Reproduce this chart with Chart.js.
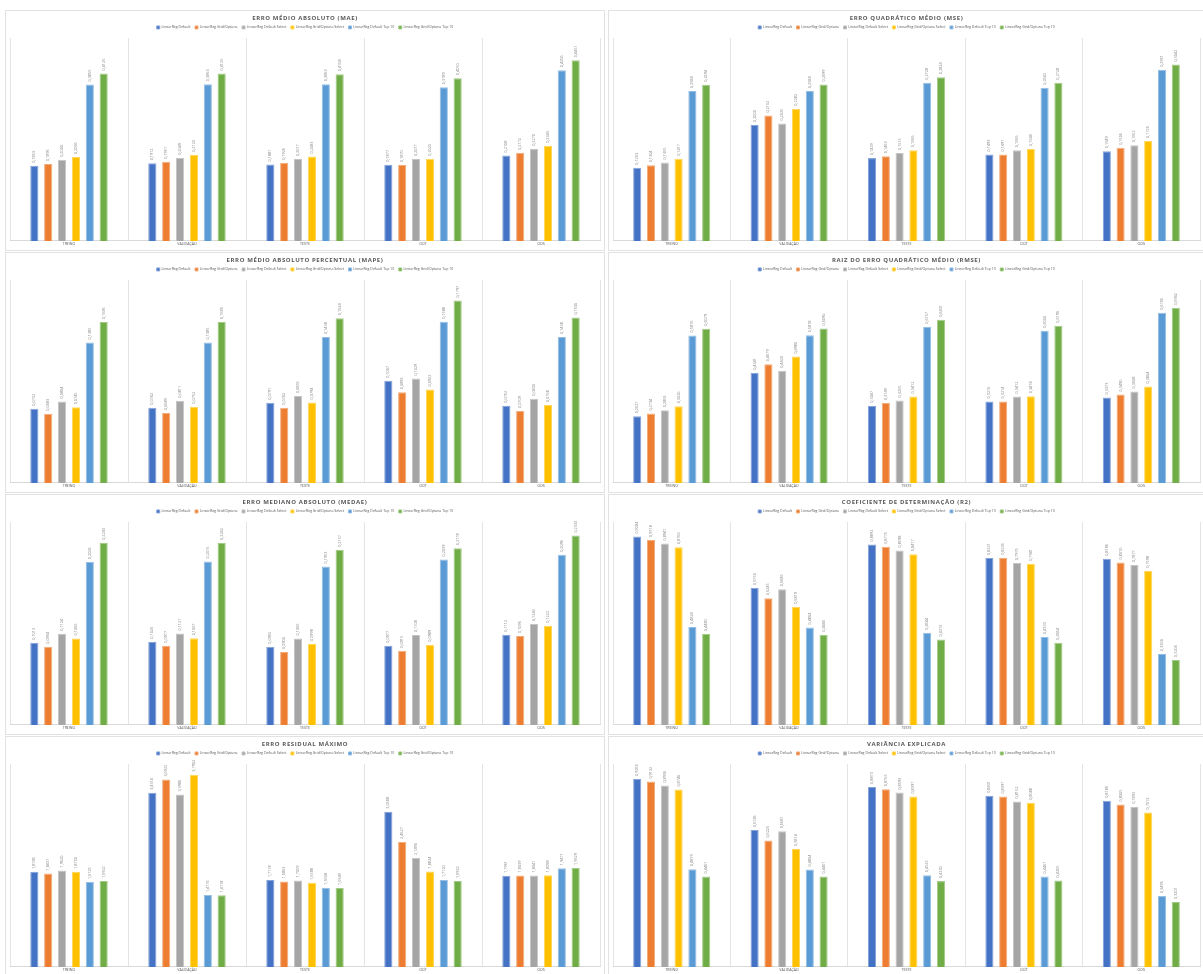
<!DOCTYPE html>
<html>
<head>
<meta charset="utf-8">
<script src="https://cdn.jsdelivr.net/npm/chart.js@4.4.1/dist/chart.umd.min.js"></script>
<style>
  html, body { margin: 0; background: #fff; }
  body { width: 1203px; height: 974px; position: relative; overflow: hidden; font-family: 'Open Sans', sans-serif; }
  .panel { position: absolute; border: 1px solid #e2e2e2; box-sizing: border-box; background: #fff; }
  .panel canvas { display: block; }
  .panel .title {
    position: absolute; left: 0; right: 0; top: 3px; line-height: 9px;
    text-align: center; font-weight: bold; font-size: 6px; letter-spacing: 0.6px; color: #595959;
  }
</style>
</head>
<body>
<script>
const categories = ['TREINO', 'VALIDAÇÃO', 'TESTE', 'OOT', 'OOS'];
const seriesNames = [
  'LinearReg Default', 'LinearReg Grid/Optuna', 'LinearReg Default Select',
  'LinearReg Grid/Optuna Select', 'LinearReg Default Top 10', 'LinearReg Grid/Optuna Top 10'
];
const seriesColors = ['#4472C4', '#ED7D31', '#A5A5A5', '#FFC000', '#5B9BD5', '#70AD47'];

// one row per series, values in category order
const maeValues = [
  [0.1853, 0.1912, 0.1887, 0.1877, 0.2108],
  [0.1895, 0.1951, 0.1926, 0.1870, 0.2172],
  [0.2000, 0.2049, 0.2017, 0.2017, 0.2270],
  [0.2066, 0.2123, 0.2083, 0.2025, 0.2343],
  [0.3855, 0.3863, 0.3863, 0.3789, 0.4206],
  [0.4125, 0.4125, 0.4108, 0.4010, 0.4451]
];
const mseValues = [
  [0.1263, 0.2000, 0.1429, 0.1493, 0.1549],
  [0.1304, 0.2162, 0.1463, 0.1491, 0.1606],
  [0.1355, 0.2025, 0.1515, 0.1566, 0.1652],
  [0.1417, 0.2282, 0.1566, 0.1584, 0.1726],
  [0.2584, 0.2584, 0.2728, 0.2642, 0.2951],
  [0.2694, 0.2699, 0.2824, 0.2728, 0.3042]
];
const mapeValues = [
  [0.0732, 0.0742, 0.0791, 0.1007, 0.0762],
  [0.0683, 0.0689, 0.0742, 0.0895, 0.0709],
  [0.0804, 0.0811, 0.0856, 0.1029, 0.0830],
  [0.0745, 0.0752, 0.0794, 0.0922, 0.0768],
  [0.1385, 0.1385, 0.1438, 0.1588, 0.1438],
  [0.1585, 0.1586, 0.1624, 0.1797, 0.1630]
];
const rmseValues = [
  [0.2627, 0.4341, 0.3047, 0.3216, 0.3373],
  [0.2734, 0.4679, 0.3149, 0.3214, 0.3490],
  [0.2863, 0.4420, 0.3255, 0.3412, 0.3608],
  [0.3020, 0.4980, 0.3412, 0.3418, 0.3804],
  [0.5816, 0.5818, 0.6157, 0.6000, 0.6706],
  [0.6079, 0.6090, 0.6431, 0.6196, 0.6902]
];
const medaeValues = [
  [0.1013, 0.1026, 0.0965, 0.0977, 0.1112],
  [0.0964, 0.0977, 0.0900, 0.0915, 0.1096],
  [0.1124, 0.1127, 0.1066, 0.1108, 0.1243],
  [0.1066, 0.1067, 0.0998, 0.0989, 0.1222],
  [0.2006, 0.2015, 0.1953, 0.2039, 0.2096],
  [0.2243, 0.2242, 0.2157, 0.2178, 0.2333]
];
const r2Values = [
  [0.9284, 0.6750, 0.8892, 0.8221, 0.8186],
  [0.9118, 0.6245, 0.8775, 0.8235, 0.8010],
  [0.8941, 0.6686, 0.8598, 0.7975, 0.7877],
  [0.8760, 0.5819, 0.8417, 0.7941, 0.7598],
  [0.4824, 0.4804, 0.4544, 0.4333, 0.3500],
  [0.4480, 0.4446, 0.4216, 0.4054, 0.3206]
];
const maxErrorValues = [
  [1.8745, 3.4314, 1.7118, 3.0588, 1.7961],
  [1.8431, 3.6922, 1.6863, 2.4627, 1.8039],
  [1.9020, 3.3980, 1.7059, 2.1490, 1.8041],
  [1.8750, 3.7902, 1.6588, 1.8824, 1.8098],
  [1.6725, 1.4176, 1.5608, 1.7120, 1.9471],
  [1.6922, 1.4118, 1.5549, 1.6922, 1.9529]
];
const varianceValues = [
  [0.9265, 0.6745, 0.8873, 0.8431, 0.8186],
  [0.9132, 0.6225, 0.8755, 0.8397, 0.8005],
  [0.8936, 0.6681, 0.8593, 0.8152, 0.7892],
  [0.8740, 0.5814, 0.8397, 0.8088, 0.7613],
  [0.4819, 0.4804, 0.4525, 0.4461, 0.3495],
  [0.4461, 0.4461, 0.4230, 0.4265, 0.3201]
];

const panels = [
  { title: 'ERRO MÉDIO ABSOLUTO (MAE)', values: maeValues, yMax: 0.5 },
  { title: 'ERRO QUADRÁTICO MÉDIO (MSE)', values: mseValues, yMax: 0.35 },
  { title: 'ERRO MÉDIO ABSOLUTO PERCENTUAL (MAPE)', values: mapeValues, yMax: 0.2 },
  { title: 'RAIZ DO ERRO QUADRÁTICO MÉDIO (RMSE)', values: rmseValues, yMax: 0.8 },
  { title: 'ERRO MEDIANO ABSOLUTO (MEDAE)', values: medaeValues, yMax: 0.25 },
  { title: 'COEFICIENTE DE DETERMINAÇÃO (R2)', values: r2Values, yMax: 1.0 },
  { title: 'ERRO RESIDUAL MÁXIMO', values: maxErrorValues, yMax: 4.0 },
  { title: 'VARIÂNCIA EXPLICADA', values: varianceValues, yMax: 1.0 }
];

const colLeft = [5, 608];
const colWidth = [600, 597];
const rowTop = [10, 252, 494, 736];
const panelHeight = 241;

function lighten(hex, amt) {
  const n = parseInt(hex.slice(1), 16);
  const r = (n >> 16) & 255, g = (n >> 8) & 255, b = n & 255;
  const f = c => Math.round(c + (255 - c) * amt);
  return `rgb(${f(r)}, ${f(g)}, ${f(b)})`;
}

// vertical value labels above each bar
const barLabels = {
  id: 'barLabels',
  afterDatasetsDraw(chart) {
    const ctx = chart.ctx;
    ctx.save();
    ctx.font = '3.8px "Open Sans"';
    ctx.fillStyle = '#7f7f7f';
    ctx.textAlign = 'left';
    ctx.textBaseline = 'middle';
    chart.data.datasets.forEach((ds, i) => {
      chart.getDatasetMeta(i).data.forEach((bar, j) => {
        ctx.save();
        ctx.translate(bar.x, bar.y - 3);
        ctx.rotate(-Math.PI / 2);
        ctx.fillText(ds.data[j].toFixed(4).replace('.', ','), 0, 0);
        ctx.restore();
      });
    });
    ctx.restore();
  }
};

panels.forEach((p, k) => {
  const col = k % 2, row = Math.floor(k / 2);
  const div = document.createElement('div');
  div.className = 'panel';
  div.style.left = colLeft[col] + 'px';
  div.style.top = rowTop[row] + 'px';
  div.style.width = colWidth[col] + 'px';
  div.style.height = panelHeight + 'px';

  const canvas = document.createElement('canvas');
  canvas.width = colWidth[col] - 2;
  canvas.height = panelHeight - 2;
  div.appendChild(canvas);

  const title = document.createElement('div');
  title.className = 'title';
  title.textContent = p.title;
  div.appendChild(title);
  document.body.appendChild(div);

  new Chart(canvas, {
    type: 'bar',
    data: {
      labels: categories,
      datasets: seriesNames.map((name, i) => ({
        label: name,
        data: p.values[i],
        backgroundColor: seriesColors[i],
        borderColor: lighten(seriesColors[i], 0.35),
        borderWidth: 1,
        categoryPercentage: 0.705,
        barPercentage: 0.59
      }))
    },
    options: {
      responsive: false,
      animation: false,
      layout: { padding: { top: 10.2, left: 4, right: 4, bottom: 2.7 } },
      plugins: {
        legend: {
          position: 'top',
          maxHeight: 16.8,
          labels: {
            boxWidth: 3, boxHeight: 3, padding: 4.5, color: '#595959',
            font: { family: 'Open Sans', size: 3.5 }
          }
        },
        tooltip: { enabled: false }
      },
      scales: {
        x: {
          grid: { color: '#e4e4e4', drawTicks: false, offset: true },
          border: { color: '#d9d9d9' },
          ticks: { padding: 1, color: '#595959', font: { family: 'Open Sans', size: 3.6 } }
        },
        y: { display: false, min: 0, max: p.yMax }
      }
    },
    plugins: [barLabels]
  });
});
</script>
</body>
</html>
